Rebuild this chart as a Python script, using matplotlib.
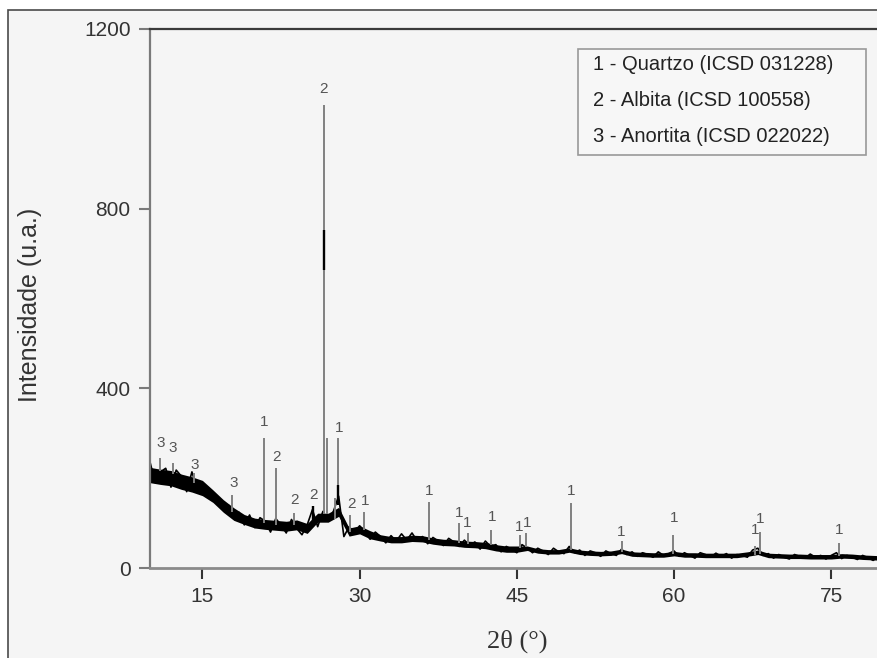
import numpy as np
import matplotlib
matplotlib.use("Agg")
import matplotlib.pyplot as plt
from matplotlib.patches import Rectangle

plt.rcParams["font.family"] = ["Liberation Sans", "DejaVu Sans"]

# diffractogram: 2theta in degrees, intensity in a.u.
TRACE_START, TRACE_STEP = 10.0, 0.5
trace = [236, 190, 214, 222, 180, 218, 204, 170, 214, 176,
         190, 176, 150, 158, 128, 140, 112, 124, 96, 118,
         90, 112, 104, 80, 110, 96, 78, 108, 88, 74,
         96, 130, 92, 126, 104, 126, 160, 70, 92, 78,
         94, 82, 64, 80, 70, 56, 72, 60, 76, 62,
         78, 60, 70, 54, 68, 60, 50, 66, 58, 48,
         62, 50, 58, 42, 60, 48, 52, 36, 48, 42,
         34, 52, 44, 34, 44, 38, 30, 44, 36, 32,
         48, 34, 40, 28, 38, 34, 26, 38, 32, 28,
         42, 30, 36, 26, 34, 30, 24, 36, 28, 32,
         38, 26, 34, 28, 22, 34, 30, 24, 33, 26,
         32, 22, 30, 28, 24, 40, 44, 28, 32, 22,
         30, 24, 20, 30, 26, 22, 31, 24, 28, 20,
         28, 34, 21, 28, 24, 19, 28, 23, 17, 25,
         20]
# noise band (centre and half width) per whole degree, 10..80
band_mid = [207, 203, 200, 192, 186, 178, 160, 138, 120, 108,
            100, 97, 95, 93, 96, 88, 112, 112, 125, 80,
            85, 74, 67, 63, 63, 66, 65, 60, 57, 56,
            53, 52, 50, 45, 42, 42, 44, 38, 36, 36,
            40, 35, 33, 32, 33, 37, 31, 30, 29, 29,
            32, 29, 29, 28, 28, 28, 28, 31, 35, 28,
            27, 26, 26, 25, 25, 25, 27, 26, 24, 23, 22]
band_half = [17] * 6 + [14] * 3 + [11] * 7 + [10] * 3 + [9] * 3 + [7] * 14 + [5] * 35

peak_angle = [11.0, 12.2, 14.2, 17.85, 20.86, 22.0, 23.7, 25.6, 26.6, 26.85, 27.65, 27.95,
              29.1, 30.45, 36.6, 39.5, 40.3, 42.5, 45.3, 45.85, 50.2, 55.0, 59.95, 67.75, 68.2, 75.75]
peak_base = [215, 210, 190, 125, 100, 96, 95, 105, 120, 120, 110, 140,
             80, 85, 62, 56, 54, 52, 44, 46, 40, 36, 32, 30, 32, 26]
peak_top = [244, 233, 211, 162, 289, 222, 122, 137, 1031, 289, 156, 289,
            118, 125, 148, 100, 78, 85, 73, 78, 145, 59, 73, 48, 81, 55]
dark_angle = [26.6, 27.95, 25.6]
dark_lo = [664, 140, 100]
dark_hi = [753, 185, 137]

mark_angle = [11.0, 12.2, 14.3, 18.0, 20.85, 22.1, 23.8, 25.6, 26.55, 28.0, 29.2, 30.5,
              36.6, 39.5, 40.3, 42.6, 45.2, 45.95, 50.2, 55.0, 60.0, 67.7, 68.2, 75.75]
mark_y = [278, 267, 229, 189, 326, 247, 151, 163, 1067, 311, 142, 150,
          172, 123, 101, 114, 92, 101, 172, 81, 111, 85, 108, 85]
mark_text = ["3", "3", "3", "3", "1", "2", "2", "2", "2", "1", "2", "1",
             "1", "1", "1", "1", "1", "1", "1", "1", "1", "1", "1", "1"]

legend_lines = ["1 - Quartzo (ICSD 031228)", "2 - Albita (ICSD 100558)", "3 - Anortita (ICSD 022022)"]
xticks = [15, 30, 45, 60, 75]
yticks = [0, 400, 800, 1200]

W, H = 878, 658
fig = plt.figure(figsize=(W / 100, H / 100), dpi=100, facecolor="white")
fig.add_artist(Rectangle((8 / W, -0.1), 1.2, 1.1 - 10 / H, transform=fig.transFigure,
                         fc="#f5f5f5", ec="#4a4a4a", lw=1.2, zorder=-10))
ax = fig.add_axes([150 / W, 90 / H, 733.6 / W, 539 / H])
ax.set_facecolor("none")

xb = 10 + np.arange(len(band_mid))
mid, half = np.array(band_mid), np.array(band_half)
ax.fill_between(xb, mid - half, mid + half, color="black", lw=0)
xt = TRACE_START + TRACE_STEP * np.arange(len(trace))
ax.plot(xt, trace, color="black", lw=1.2)
ax.vlines(peak_angle, peak_base, peak_top, color="#808080", lw=1.4)
ax.vlines(dark_angle, dark_lo, dark_hi, color="black", lw=1.7)
for a, y, t in zip(mark_angle, mark_y, mark_text):
    ax.text(a, y, t, ha="center", va="center", fontsize=11, color="#555555")

ax.set_xlim(10, 80); ax.set_ylim(0, 1200)
ax.set_xticks(xticks); ax.set_yticks(yticks)
ax.tick_params(direction="out", length=8, width=1.5, labelsize=15, labelcolor="#333333", pad=6)
ax.tick_params(axis="y", color="#7a7a7a")
ax.tick_params(axis="x", color="#333333")
ax.spines["right"].set_visible(False)
ax.spines["left"].set_color("#7a7a7a"); ax.spines["left"].set_linewidth(1.6)
ax.spines["top"].set_color("#3a3a3a"); ax.spines["top"].set_linewidth(1.6)
ax.spines["bottom"].set_color("#8a8a8a"); ax.spines["bottom"].set_linewidth(2)

fig.text(30 / W, 1 - 305 / H, "Intensidade (u.a.)", rotation=90, ha="center", va="center",
         fontsize=18, color="#333333")
fig.text(517 / W, 1 - 641 / H, "2θ (°)", ha="center", va="center", fontsize=19, color="#333333",
         family=["Liberation Serif", "DejaVu Serif"])

fig.add_artist(Rectangle((578 / W, 1 - 155 / H), 288 / W, 106 / H, transform=fig.transFigure,
                         fc="#f7f7f7", ec="#999999", lw=1.2))
for i, s in enumerate(legend_lines):
    fig.text(593 / W, 1 - (65 + 36 * i) / H, s, ha="left", va="center", fontsize=14.5, color="#222222")

fig.savefig("out.png", dpi=100, facecolor=fig.get_facecolor())
